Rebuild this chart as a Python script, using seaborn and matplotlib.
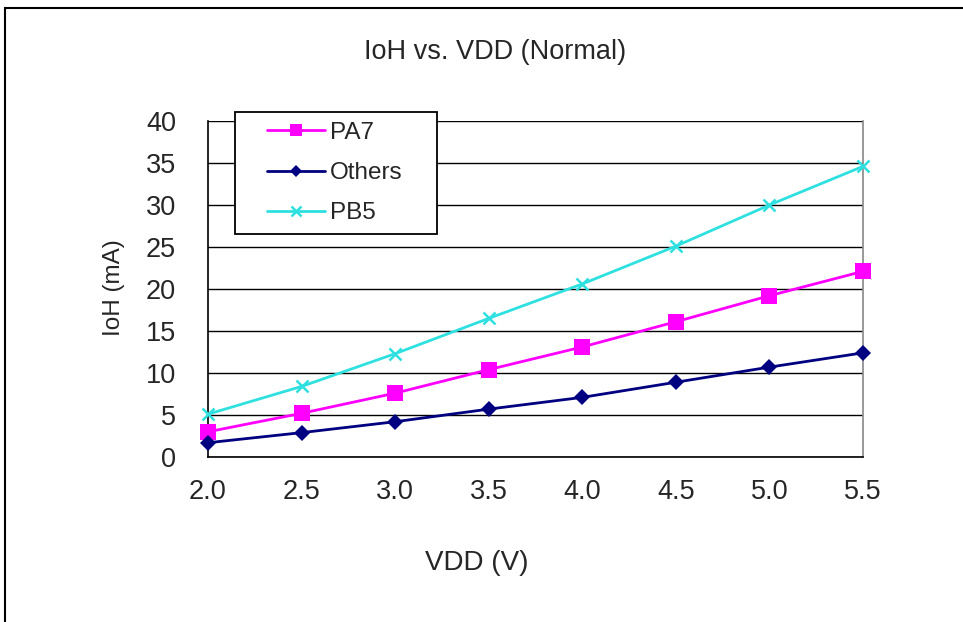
import numpy as np
import pandas as pd
import matplotlib
matplotlib.use('Agg')
import matplotlib.pyplot as plt
import seaborn as sns
from matplotlib.patches import Rectangle

# Data
vdd = [2.0, 2.5, 3.0, 3.5, 4.0, 4.5, 5.0, 5.5]
pa7 = [3.0, 5.2, 7.6, 10.4, 13.1, 16.1, 19.2, 22.1]
others = [1.7, 2.9, 4.2, 5.7, 7.1, 8.9, 10.7, 12.4]
pb5 = [5.1, 8.4, 12.3, 16.5, 20.6, 25.1, 30.0, 34.6]
series_names = ['PA7', 'Others', 'PB5']
x_ticks = [2.0, 2.5, 3.0, 3.5, 4.0, 4.5, 5.0, 5.5]
y_ticks = [0, 5, 10, 15, 20, 25, 30, 35, 40]

df = pd.DataFrame({
    'VDD': vdd * 3,
    'IoH': pa7 + others + pb5,
    'series': [s for s in series_names for _ in vdd],
})

sns.set_style('white')
plt.rcParams['font.family'] = ['Liberation Sans', 'DejaVu Sans']

W, H = 963, 622
fig = plt.figure(figsize=(W / 100, H / 100), dpi=100)
ax = fig.add_axes([208 / W, 1 - 457 / H, (863 - 208) / W, (457 - 121) / H])

# outer frame of the picture
fig.patches.append(Rectangle((5 / W, -0.05), 1.2, 1 - 8 / H + 0.05, transform=fig.transFigure,
                             fill=False, edgecolor='black', linewidth=1.5))

palette = {'PA7': '#FF00FF', 'Others': '#000080', 'PB5': '#2EE0E0'}
markers = {'PA7': 's', 'Others': 'D', 'PB5': 'x'}
sizes = {'PA7': 11, 'Others': 8.5, 'PB5': 9}

for name in series_names:
    sub = df[df['series'] == name]
    sns.lineplot(data=sub, x='VDD', y='IoH', ax=ax, color=palette[name], marker=markers[name],
                 markersize=sizes[name], markeredgewidth=1.8 if name == 'PB5' else 0,
                 markeredgecolor=palette[name], linewidth=2, label=name, zorder=3, clip_on=False)

ax.set_xlim(2.0, 5.5)
ax.set_ylim(0, 40)
ax.set_xticks(x_ticks)
ax.set_xticklabels([f'{v:.1f}' for v in x_ticks])
ax.set_yticks(y_ticks)
ax.yaxis.grid(True, color='black', linewidth=1.0)
ax.set_axisbelow(True)
ax.tick_params(axis='x', direction='in', length=8, width=1, color='black', labelsize=19.5, pad=15.5)
ax.tick_params(axis='y', length=0, labelsize=19.5, pad=23)
for side in ['left', 'bottom']:
    ax.spines[side].set_color('black')
    ax.spines[side].set_linewidth(1.2)
ax.spines['top'].set_visible(False)
ax.spines['right'].set_color('#888888')
ax.spines['right'].set_linewidth(1.2)

ax.set_xlabel('')
ax.set_ylabel('')
fig.text(477 / W, 1 - 563 / H, 'VDD (V)', ha='center', va='center', fontsize=20)
fig.text(114 / W, 1 - 288 / H, 'IoH (mA)', ha='center', va='center', rotation=90, fontsize=17.5)
fig.text(495 / W, 1 - 52 / H, 'IoH vs. VDD (Normal)', ha='center', va='center', fontsize=19.5)

# legend box drawn separately (wider side padding than matplotlib allows)
box = Rectangle((235 / W, 1 - 234 / H), (437 - 235) / W, (234 - 112) / H, transform=fig.transFigure,
                facecolor='white', edgecolor='black', linewidth=1.3, zorder=4)
fig.patches.append(box)

leg = ax.legend(loc='center left', bbox_to_anchor=(267 / W, 1 - 173 / H), bbox_transform=fig.transFigure,
                frameon=False, fontsize=17.5, handlelength=2.4, borderpad=0, labelspacing=0.75,
                borderaxespad=0, handletextpad=0.2, markerscale=0.75)
leg.remove()
fig.add_artist(leg)
leg.set_zorder(6)

fig.savefig('out.png', dpi=100)
